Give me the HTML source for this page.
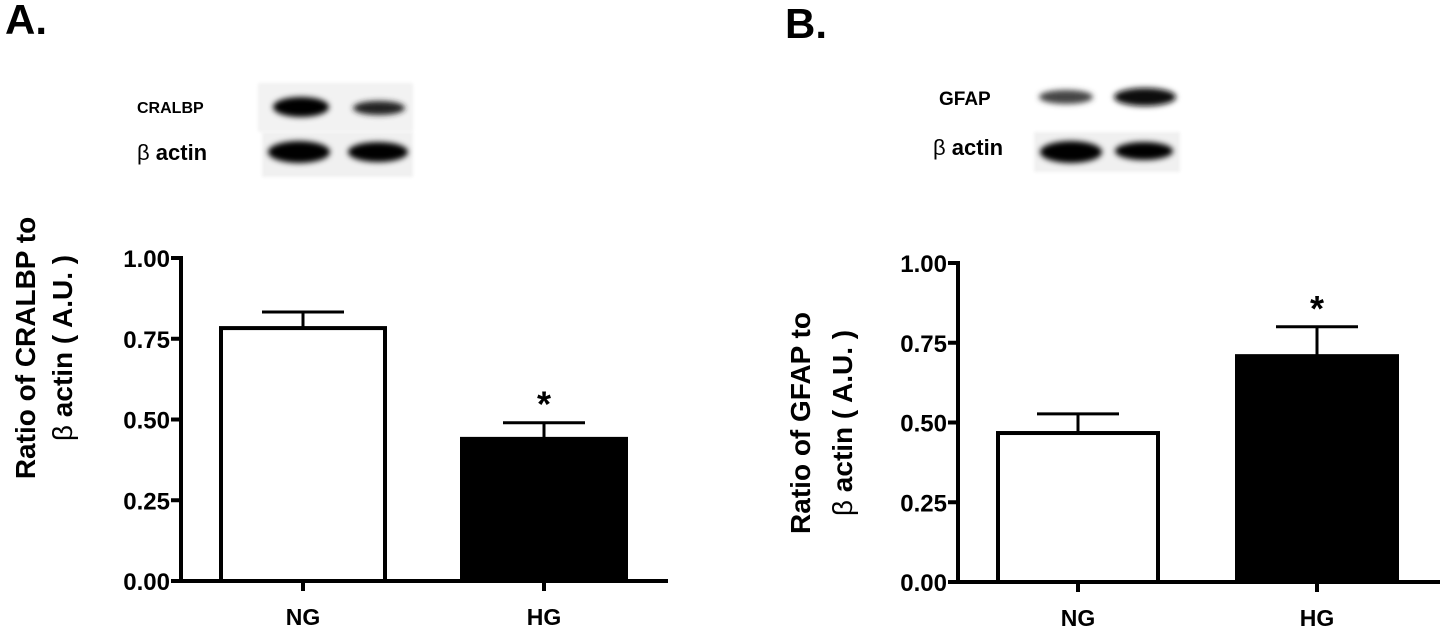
<!DOCTYPE html>
<html><head><meta charset="utf-8"><style>
body{margin:0;background:#fff;}
svg text{font-family:"Liberation Sans",Arial,sans-serif;font-weight:bold;fill:#000;}
</style></head><body>
<svg id="fig" width="1446" height="632" viewBox="0 0 1446 632" xmlns="http://www.w3.org/2000/svg">
<defs>
<filter id="blur" x="-30%" y="-80%" width="160%" height="260%"><feGaussianBlur stdDeviation="3"/></filter>
<filter id="blur2"><feGaussianBlur stdDeviation="1.5"/></filter>
</defs>
<text x="5" y="34" font-size="42">A.</text>
<text x="785" y="38" font-size="42">B.</text>

<g>
<rect x="258" y="83" width="155" height="49" fill="#f2f2f2" filter="url(#blur2)"/>
<rect x="262" y="132" width="151" height="45" fill="#f0f0f0" filter="url(#blur2)"/>
<ellipse cx="301" cy="107" rx="28" ry="10" fill="#000" filter="url(#blur)"/>
<ellipse cx="379" cy="108" rx="26" ry="7" fill="#222" filter="url(#blur)"/>
<ellipse cx="299" cy="152" rx="31" ry="11" fill="#000" filter="url(#blur)"/>
<ellipse cx="378" cy="152" rx="30" ry="10" fill="#000" filter="url(#blur)"/>
<text x="137" y="113" font-size="16">CRALBP</text>
<text x="137" y="160" font-size="22"><tspan font-weight="normal">β</tspan>  actin</text>
</g>
<g>
<rect x="1034" y="132" width="146" height="40" fill="#f0f0f0" filter="url(#blur2)"/>
<ellipse cx="1066" cy="97" rx="27" ry="7" fill="#444" filter="url(#blur)"/>
<ellipse cx="1145" cy="97" rx="31" ry="9" fill="#111" filter="url(#blur)"/>
<ellipse cx="1071" cy="152" rx="31" ry="11" fill="#000" filter="url(#blur)"/>
<ellipse cx="1144" cy="151" rx="29" ry="9" fill="#000" filter="url(#blur)"/>
<text x="939" y="105" font-size="19">GFAP</text>
<text x="933" y="155" font-size="22"><tspan font-weight="normal">β</tspan>  actin</text>
</g>
<g id="charts"></g>
</svg>
<script>
const categories = ["NG", "HG"];
const valuesA = [0.783, 0.44];
const errorsA = [0.05, 0.05];
const valuesB = [0.467, 0.708];
const errorsB = [0.06, 0.092];
const tickLabels = ["0.00", "0.25", "0.50", "0.75", "1.00"];
const tickValues = [0, 0.25, 0.5, 0.75, 1];
const sigA = [false, true];
const sigB = [false, true];

const NS = "http://www.w3.org/2000/svg";
const root = document.getElementById("charts");
function mk(tag, attrs, parent){
  const e = document.createElementNS(NS, tag);
  for (const k in attrs) e.setAttribute(k, attrs[k]);
  parent.appendChild(e); return e;
}
function drawChart(cfg){
  const g = mk("g", {}, root);
  
  
  const y = v => cfg.y0 - v * (cfg.y0 - cfg.y1);
  const barW = cfg.barW;
  const cx = i => cfg.x0 + cfg.firstCenter + i * cfg.step;
  cfg.values.forEach((v, i) => {
    const top = y(v), c = cx(i);
    const er = mk("line", {x1:c, x2:c, y1:top, y2:y(v + cfg.errors[i]), stroke:"#000", "stroke-width":3}, g);
    
    
    const cap = mk("line", {x1:c-41, x2:c+41, y1:y(v + cfg.errors[i]), y2:y(v + cfg.errors[i]), stroke:"#000", "stroke-width":3}, g);
    
    
    const r = mk("rect", {x:c-barW/2, y:top, width:barW, height:cfg.y0-top, fill:i===0?"#fff":"#000", stroke:"#000", "stroke-width":4}, g);
    
    
    if (cfg.sig[i]) {
      const s = mk("text", {x:c, y:y(v + cfg.errors[i]) - 6, "font-size":36, "text-anchor":"middle"}, g);
      s.textContent = "*";
      
      
    }
    const tk = mk("line", {x1:c, x2:c, y1:cfg.y0, y2:cfg.y0+10, stroke:"#000", "stroke-width":4}, g);
    
    
    const lb = mk("text", {x:c, y:cfg.y0+44, "font-size":23, "text-anchor":"middle"}, g);
    lb.textContent = categories[i];
    
    
  });
  const ya = mk("line", {x1:cfg.x0, x2:cfg.x0, y1:cfg.y1-2, y2:cfg.y0+2, stroke:"#000", "stroke-width":4}, g);
  
  
  const xa = mk("line", {x1:cfg.x0, x2:cfg.xEnd, y1:cfg.y0, y2:cfg.y0, stroke:"#000", "stroke-width":4}, g);
  
  
  tickValues.forEach((t, i) => {
    const tl = mk("line", {x1:cfg.x0-10, x2:cfg.x0, y1:y(t), y2:y(t), stroke:"#000", "stroke-width":4}, g);
    
    
    const tx = mk("text", {x:cfg.x0-11, y:y(t)+9, "font-size":24, "text-anchor":"end"}, g);
    tx.textContent = tickLabels[i];
    
    
  });
  const t1 = mk("text", {x:0, y:0, "font-size":28, "text-anchor":"middle", transform:`translate(${cfg.tx1},${cfg.tyc}) rotate(-90)`}, g);
  t1.textContent = cfg.title1;
  
  
  const t2 = mk("text", {x:0, y:0, "font-size":28, "text-anchor":"middle", transform:`translate(${cfg.tx2},${cfg.tyc}) rotate(-90)`}, g);
  t2.innerHTML = '<tspan font-weight="normal">β</tspan> actin ( A.U. )';
  
  
}
drawChart({name:"chart-a", values:valuesA, errors:errorsA, sig:sigA, x0:181, xEnd:668, y0:581, y1:258,
  barW:164, firstCenter:122, step:241, title1:"Ratio of CRALBP to", tx1:35, tx2:72, tyc:348});
drawChart({name:"chart-b", values:valuesB, errors:errorsB, sig:sigB, x0:958, xEnd:1440, y0:582, y1:263,
  barW:160, firstCenter:120, step:239, title1:"Ratio of GFAP to", tx1:810, tx2:852, tyc:423});
</script>
</body></html>
